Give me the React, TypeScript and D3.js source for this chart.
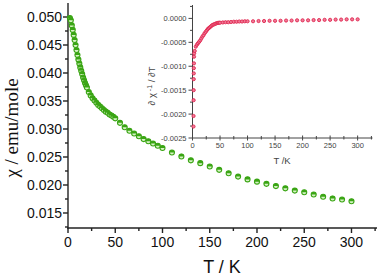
import * as d3 from 'd3'

// main curve: chi vs T
const mainT = [2, 3, 4, 5, 6, 7, 8, 9, 10, 11, 12, 13, 14, 15, 16, 17, 18, 19, 20, 22, 24, 26, 28, 30, 32, 34, 36, 38, 40, 42, 44, 46, 48, 50, 55, 60, 65, 70, 75, 80, 85, 90, 95, 100, 110, 120, 130, 140, 150, 160, 170, 180, 190, 200, 210, 220, 230, 240, 250, 260, 270, 280, 290, 300]
const mainChi = [0.0498, 0.0494, 0.0485, 0.0477, 0.0468, 0.0459, 0.0450, 0.0441, 0.0432, 0.0424, 0.0417, 0.0410, 0.0404, 0.0398, 0.0392, 0.0387, 0.0382, 0.0378, 0.0374, 0.0366, 0.0360, 0.0355, 0.0351, 0.0347, 0.0343, 0.0340, 0.0337, 0.0334, 0.0331, 0.0329, 0.0326, 0.0324, 0.0322, 0.0319, 0.0311, 0.0303, 0.0297, 0.0292, 0.0287, 0.0282, 0.0278, 0.0274, 0.0270, 0.0266, 0.0258, 0.0251, 0.0244, 0.0239, 0.0233, 0.0227, 0.0221, 0.0215, 0.0210, 0.0206, 0.0202, 0.0198, 0.0194, 0.0190, 0.0187, 0.0183, 0.0179, 0.0176, 0.0174, 0.0171]
const mainXTicks = [0, 50, 100, 150, 200, 250, 300]
const mainYTicks = [0.015, 0.020, 0.025, 0.030, 0.035, 0.040, 0.045, 0.050]

// inset: derivative of inverse chi
const insetT = [1.8, 1.9, 2.0, 2.1, 2.2, 2.3, 2.4, 2.6, 2.8, 3, 4, 6, 8, 10, 12, 14, 16, 18, 20, 22, 24, 26, 28, 30, 32, 34, 36, 38, 40, 42, 44, 46, 48, 50, 55, 60, 65, 70, 75, 80, 85, 90, 95, 100, 110, 120, 130, 140, 150, 160, 170, 180, 190, 200, 210, 220, 230, 240, 250, 260, 270, 280, 290, 300]
const insetD = [-0.00226, -0.00204, -0.00171, -0.00150, -0.00127, -0.00115, -0.00104, -0.00094, -0.00080, -0.00073, -0.00068, -0.00059, -0.00055, -0.00052, -0.00049, -0.00046, -0.00042, -0.00038, -0.00035, -0.00031, -0.00028, -0.00025, -0.00022, -0.00020, -0.00018, -0.00016, -0.00014, -0.00013, -0.00012, -0.00011, -0.00010, -0.000095, -0.00009, -0.00009, -0.000085, -0.00008, -0.00008, -0.000075, -0.00007, -0.00007, -0.000065, -0.000065, -0.00006, -0.00006, -0.00006, -0.000055, -0.000055, -0.00005, -0.00005, -0.00005, -0.000045, -0.000045, -0.00004, -0.00004, -0.00004, -0.000035, -0.000035, -0.00003, -0.00003, -0.000025, -0.000025, -0.00002, -0.00002, -0.00002]
const insetXTicks = [0, 50, 100, 150, 200, 250, 300]
const insetYTicks = [-0.0025, -0.0020, -0.0015, -0.0010, -0.0005, 0.0000]

export default function App() {
  // main scales
  const x = d3.scaleLinear().domain([0, 327]).range([68, 377])
  const y = d3.scaleLinear().domain([0.01232, 0.0525]).range([228, 3])
  // inset scales
  const ix = d3.scaleLinear().domain([0, 327]).range([192.5, 372.5])
  const iy = d3.scaleLinear().domain([-0.0025, 0.00028]).range([138, 5])

  const topHalf = d3.arc()({ innerRadius: 0, outerRadius: 2.6, startAngle: -Math.PI / 2, endAngle: Math.PI / 2 } as any) as string

  const xMinor = d3.range(25, 327, 50)
  const yMinor = d3.range(0.0125, 0.0525, 0.005)
  const ixMinor = d3.range(25, 327, 50)
  const iyMinor = d3.range(-0.00225, 0.0003, 0.0005)

  return (
    <svg width={378} height={276} style={{ position: 'absolute', left: 0, top: 0, background: '#fff' }}>
      {/* main axes */}
      <g stroke="#222" strokeWidth={1.4}>
        <line x1={68} x2={68} y1={3} y2={228.7} />
        <line x1={67.3} x2={377} y1={228} y2={228} />
        {mainXTicks.map(t => <line key={'xt' + t} x1={x(t)} x2={x(t)} y1={228} y2={233} />)}
        {xMinor.map(t => <line key={'xm' + t} x1={x(t)} x2={x(t)} y1={228} y2={231} />)}
        {mainYTicks.map(t => <line key={'yt' + t} x1={63} x2={68} y1={y(t)} y2={y(t)} />)}
        {yMinor.map(t => <line key={'ym' + t} x1={65} x2={68} y1={y(t)} y2={y(t)} />)}
      </g>
      <g fontFamily="Arial, 'Liberation Sans', sans-serif" fontSize={14} fill="#111">
        {mainXTicks.map(t => <text key={'xl' + t} x={x(t)} y={247} textAnchor="middle">{t}</text>)}
        {mainYTicks.map(t => <text key={'yl' + t} x={62} y={y(t) + 5} textAnchor="end">{d3.format('.3f')(t)}</text>)}
        <text x={222} y={273} fontSize={18} textAnchor="middle">T / K</text>
      </g>
      <text transform="translate(18,128) rotate(-90)" textAnchor="middle" fontFamily="'Liberation Serif', 'Times New Roman', serif" fontSize={19} fill="#111">χ / emu/mole</text>

      {/* main data */}
      <g>
        {mainT.map((t, i) => (
          <g key={'m' + i} transform={`translate(${x(t)},${y(mainChi[i])})`}>
            <circle r={2.5} fill="#d6f2c4" stroke="#3aa514" strokeWidth={1.1} />
            <path d={topHalf} fill="#3aa514" />
          </g>
        ))}
      </g>

      {/* inset axes */}
      <g stroke="#444" strokeWidth={1}>
        <line x1={192.5} x2={192.5} y1={5} y2={138.5} />
        <line x1={192} x2={372.5} y1={138} y2={138} />
        {insetXTicks.map(t => <line key={'ixt' + t} x1={ix(t)} x2={ix(t)} y1={135.5} y2={140.5} />)}
        {ixMinor.map(t => <line key={'ixm' + t} x1={ix(t)} x2={ix(t)} y1={136} y2={139.5} />)}
        {insetYTicks.map(t => <line key={'iyt' + t} x1={188.5} x2={192.5} y1={iy(t)} y2={iy(t)} />)}
        {iyMinor.map(t => <line key={'iym' + t} x1={190} x2={192.5} y1={iy(t)} y2={iy(t)} />)}
      </g>
      <g fontFamily="Arial, 'Liberation Sans', sans-serif" fontSize={7.5} fill="#444">
        {insetXTicks.map(t => <text key={'ixl' + t} x={ix(t)} y={148} textAnchor="middle">{t}</text>)}
        {insetYTicks.map(t => <text key={'iyl' + t} x={186.5} y={iy(t) + 2.7} textAnchor="end">{d3.format('.4f')(t).replace('−', '-')}</text>)}
        <text x={282} y={164} fontSize={9.5} textAnchor="middle">T /K</text>
      </g>
      <text transform="translate(155,86) rotate(-90)" textAnchor="middle" fontFamily="Arial, 'Liberation Sans', sans-serif" fontSize={9.5} fill="#444">
        ∂ χ<tspan dy={-3} fontSize={7}> -1</tspan><tspan dy={3}> / ∂T</tspan>
      </text>

      {/* inset data */}
      <g>
        {insetT.map((t, i) => (
          <circle key={'i' + i} cx={ix(t)} cy={iy(insetD[i])} r={1.6} fill="#f07b98" stroke="#e0264f" strokeWidth={0.9} />
        ))}
      </g>
    </svg>
  )
}
